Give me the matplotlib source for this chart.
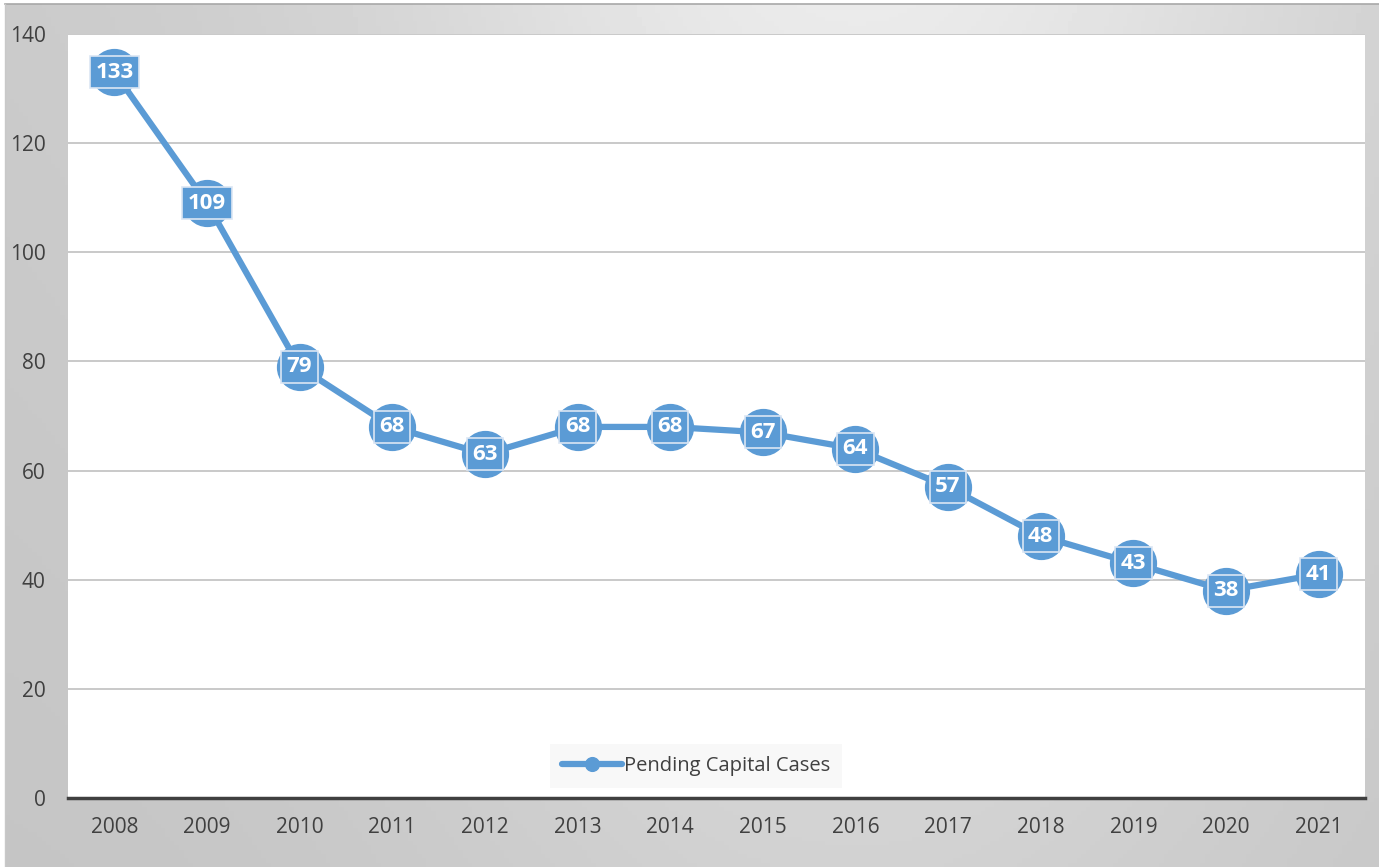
import matplotlib.pyplot as plt
import numpy as np

years = ["2008", "2009", "2010", "2011", "2012", "2013", "2014",
         "2015", "2016", "2017", "2018", "2019", "2020", "2021"]
cases = [133, 109, 79, 68, 63, 68, 68, 67, 64, 57, 48, 43, 38, 41]
yticks = [0, 20, 40, 60, 80, 100, 120, 140]

blue = "#5B9BD5"
W, H = 1379, 867

fig = plt.figure(figsize=(W / 100, H / 100), dpi=100)
fig.patch.set_facecolor("white")

# gray gradient frame behind the plot
bg = fig.add_axes([5 / W, 0, (W - 5) / W, (H - 4) / H])
gx = np.linspace(0, 1, 300)
gy = np.linspace(0, 1, 200)
X, Y = np.meshgrid(gx, gy)
shade = 0.79 + 0.13 * np.exp(-((X - 0.62) ** 2) / 0.12) * (1 - 0.6 * Y) - 0.02 * Y
bg.imshow(shade, cmap="gray", vmin=0, vmax=1, aspect="auto",
          extent=[0, 1, 0, 1], origin="upper")
bg.set_axis_off()
fig.add_artist(plt.Line2D([5 / W, 1], [(H - 4) / H] * 2, color="#a8a8a8", lw=1.2))
fig.add_artist(plt.Line2D([5 / W] * 2, [0, (H - 4) / H], color="#c8c8c8", lw=1))

left, right, top, bottom = 68, 1365, 34, 798
ax = fig.add_axes([left / W, 1 - bottom / H, (right - left) / W, (bottom - top) / H])
ax.set_facecolor("white")

x = np.arange(len(years))
ax.plot(x, cases, color=blue, lw=4.5, marker="o", markersize=33,
        markerfacecolor=blue, markeredgecolor=blue, label="Pending Capital Cases",
        zorder=3, solid_capstyle="round")

for xi, v in zip(x, cases):
    ax.text(xi, v, str(v), ha="center", va="center", color="white",
            fontsize=16, fontweight="bold", family="Open Sans", zorder=4,
            bbox=dict(boxstyle="square,pad=0.25", fc=blue, ec="#dbe6f4", lw=1.2))

ax.set_xlim(-0.5, len(years) - 0.5)
ax.set_ylim(0, 140)
ax.set_yticks(yticks)
ax.set_xticks(x)
ax.set_xticklabels(years)
ax.grid(axis="y", color="#c0c0c0", lw=1.2)
ax.set_axisbelow(True)
for s in ["left", "right", "top"]:
    ax.spines[s].set_visible(False)
ax.spines["bottom"].set_color("#404040")
ax.spines["bottom"].set_linewidth(2.5)
ax.tick_params(length=0, labelsize=15, labelcolor="#404040")
ax.tick_params(axis="x", pad=14)
ax.tick_params(axis="y", pad=16)
for t in ax.get_yticklabels() + ax.get_xticklabels():
    t.set_family("Open Sans")

leg = ax.legend(loc="center", bbox_to_anchor=((696 - left) / (right - left), (bottom - 766) / (bottom - top)),
                frameon=True, fancybox=False, handlelength=3.0,
                handletextpad=0.1, borderpad=0.6, borderaxespad=0, markerscale=0.3,
                prop={"family": "Open Sans", "size": 14.5})
leg.get_frame().set_facecolor("#f7f7f7")
leg.get_frame().set_edgecolor("none")
for t in leg.get_texts():
    t.set_color("#404040")

fig.savefig("out.png", dpi=100)
